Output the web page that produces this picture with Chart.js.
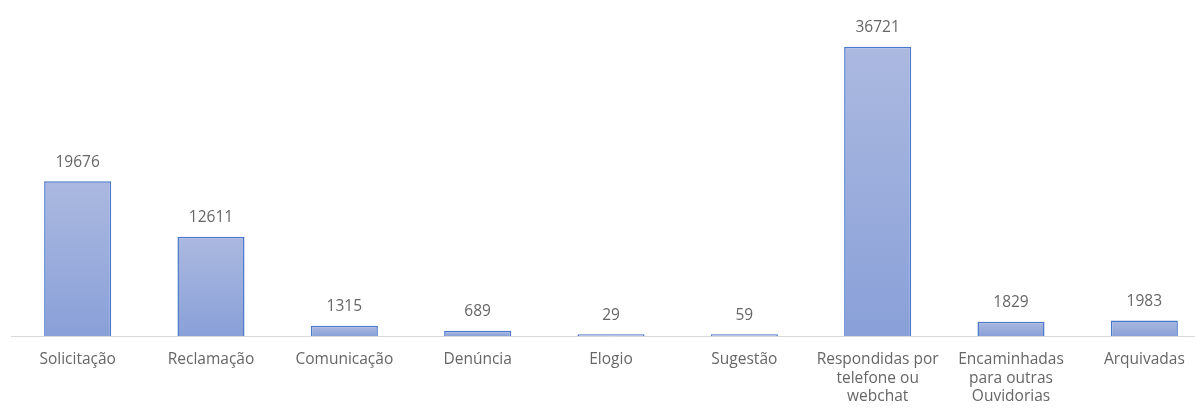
<!DOCTYPE html>
<html><head><meta charset="utf-8">
<script src="https://cdn.jsdelivr.net/npm/chart.js@4.4.1/dist/chart.umd.min.js"></script>
<style>
html,body{margin:0;padding:0;background:#fff;overflow:hidden;}
#wrap{position:relative;width:1195px;height:410px;overflow:hidden;}
</style></head><body>
<div id="wrap"><canvas id="c" width="1211" height="420"></canvas></div>
<script>
const categories = [
  "Solicitação", "Reclamação", "Comunicação", "Denúncia", "Elogio", "Sugestão",
  ["Respondidas por", "telefone ou", "webchat"],
  ["Encaminhadas", "para outras", "Ouvidorias"],
  "Arquivadas"
];
const values = [19676, 12611, 1315, 689, 29, 59, 36721, 1829, 1983];
const yMax = 40000;

const FONT = "'Open Sans', 'Noto Sans', sans-serif";
const TEXT = '#666666';

function barGradient(ctx) {
  const chart = ctx.chart;
  const area = chart.chartArea;
  if (!area || ctx.type !== 'data') return '#99acdc';
  const y = chart.scales.y;
  const top = y.getPixelForValue(ctx.parsed ? ctx.parsed.y : values[ctx.dataIndex]);
  const bottom = y.getPixelForValue(0);
  const g = chart.ctx.createLinearGradient(0, top, 0, Math.max(bottom, top + 1));
  g.addColorStop(0, '#abb9e0');
  g.addColorStop(1, '#89a0d8');
  return g;
}

const labelPlugin = {
  id: 'valueLabels',
  afterDatasetsDraw(chart) {
    const c = chart.ctx;
    const meta = chart.getDatasetMeta(0);
    c.save();
    c.font = "15.5px " + FONT;
    c.fillStyle = TEXT;
    c.textAlign = 'center';
    c.textBaseline = 'middle';
    meta.data.forEach((el, i) => {
      c.fillText(String(values[i]), el.x, el.y - 19);
    });
    c.restore();
  }
};

new Chart(document.getElementById('c'), {
  type: 'bar',
  data: {
    labels: categories,
    datasets: [{
      data: values,
      backgroundColor: barGradient,
      borderColor: '#4a76cb',
      borderWidth: 1.5,
      minBarLength: 2,
      categoryPercentage: 1,
      barPercentage: 0.503
    }]
  },
  options: {
    responsive: false,
    animation: false,
    layout: { padding: { left: 11, right: 0, top: 21, bottom: 0 } },
    plugins: { legend: { display: false }, tooltip: { enabled: false } },
    scales: {
      x: {
        grid: { display: false, drawTicks: false },
        border: { display: true, color: '#d9d9d9', width: 1 },
        ticks: {
          color: TEXT,
          font: { family: FONT, size: 15.5 },
          padding: 14,
          maxRotation: 0,
          autoSkip: false
        }
      },
      y: {
        display: false,
        min: 0,
        max: yMax
      }
    }
  },
  plugins: [labelPlugin]
});
</script>
</body></html>
